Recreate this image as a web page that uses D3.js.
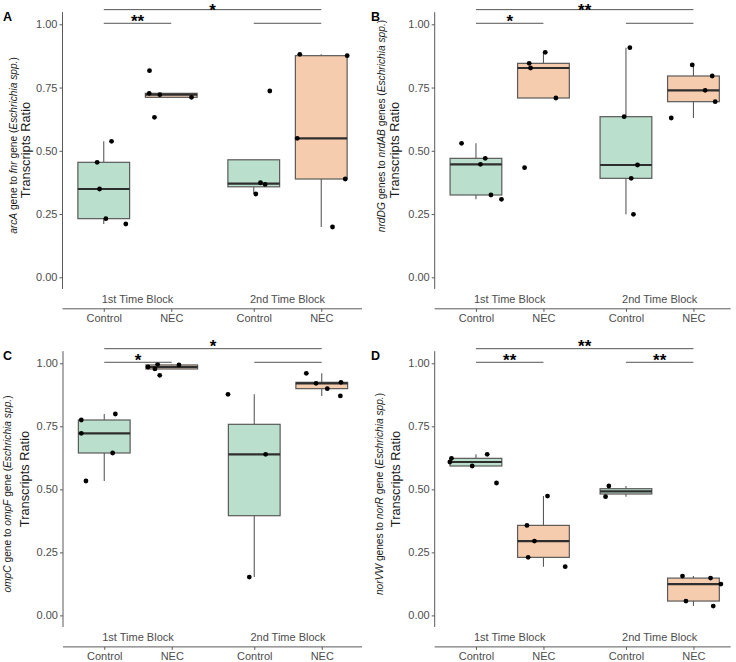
<!DOCTYPE html>
<html><head><meta charset="utf-8">
<script src="https://cdn.jsdelivr.net/npm/d3@7"></script>
<style>body{margin:0;background:#fff} svg{display:block;font-family:"Liberation Sans",Arial,sans-serif}</style>
</head><body><svg id="chart" width="736" height="662"></svg>
<script>
// ---------- data ----------
const blocks = ["1st Time Block", "2nd Time Block"];
const groups = ["Control", "NEC"];
const yTicks = [0, 0.25, 0.5, 0.75, 1.0];
// order of cells: [block1-Control, block1-NEC, block2-Control, block2-NEC]
const arcAValues = [
  [0.4545, 0.349, 0.2318, 0.2107, 0.5375],
  [0.8167, 0.7272, 0.7219, 0.7113, 0.6323],
  [0.3292, 0.3738, 0.3672, 0.7364],
  [0.8813, 0.876, 0.5493, 0.3885, 0.1988]
];
const arcAJitter = [
  [-0.044, -0.028, 0.014, 0.147, 0.052],
  [-0.145, -0.147, -0.076, 0.135, -0.112],
  [0.014, 0.045, 0.076, 0.107],
  [-0.143, 0.173, -0.160, 0.160, 0.075]
];
const nrdValues = [
  [0.5296, 0.4465, 0.4702, 0.3253, 0.3082],
  [0.8457, 0.8273, 0.8892, 0.7087, 0.4333],
  [0.9076, 0.6349, 0.4439, 0.3912, 0.2489],
  [0.8393, 0.7957, 0.7389, 0.6942, 0.6296]
];
const nrdJitter = [
  [-0.096, 0.030, 0.062, 0.100, 0.170],
  [-0.095, -0.086, 0.012, 0.083, -0.126],
  [0.026, -0.012, 0.077, 0.035, 0.050],
  [-0.008, 0.125, 0.078, 0.145, -0.148]
];
const ompValues = [
  [0.7751, 0.7222, 0.7989, 0.6442, 0.5331],
  [0.9854, 0.996, 0.9775, 0.9934, 0.9524],
  [0.877, 0.6389, 0.1521],
  [0.9603, 0.9206, 0.8995, 0.9246, 0.8704]
];
const ompJitter = [
  [-0.153, -0.153, 0.074, 0.056, -0.122],
  [-0.158, -0.094, -0.112, 0.048, -0.080],
  [-0.175, 0.076, -0.033],
  [-0.103, -0.038, 0.037, 0.128, 0.124]
];
const norValues = [
  [0.6085, 0.623, 0.5926, 0.6389, 0.5251],
  [0.3571, 0.295, 0.2302, 0.4735, 0.1931],
  [0.4709, 0.5132],
  [0.156, 0.0569, 0.148, 0.1243, 0.037]
];
const norJitter = [
  [-0.174, -0.163, -0.025, 0.075, 0.137],
  [-0.110, -0.060, -0.102, 0.027, 0.145],
  [-0.136, -0.114],
  [-0.073, -0.050, 0.114, 0.183, 0.132]
];
// significance: [Ctrl1 vs NEC1, Ctrl1 vs NEC2, Ctrl2 vs NEC2]
const arcASig = ["**", "*", ""];
const nrdSig = ["*", "**", ""];
const ompSig = ["*", "*", ""];
const norSig = ["**", "**", "**"];
const sigLevels = [1.004, 1.058];

const titles = {
  A: [["arcA", true], [" gene to ", false], ["fnr", true], [" gene (", false], ["Eschrichia spp.", true], [")", false]],
  B: [["nrdDG", true], [" genes to ", false], ["nrdAB", true], [" genes (", false], ["Eschrichia spp.", true], [")", false]],
  C: [["ompC", true], [" gene to ", false], ["ompF", true], [" gene (", false], ["Eschrichia spp.", true], [")", false]],
  D: [["norVW", true], [" genes to ", false], ["norR", true], [" gene (", false], ["Eschrichia spp.", true], [")", false]]
};

// ---------- layout ----------
const panels = [
  {id: "A", values: arcAValues, jitter: arcAJitter, sig: arcASig, left: 0,   axisX: 62.5,  axisEnd: 362,   y0: 277.3, y1: 24.3,
   t1: [13.3, 145.5], t2: [26, 150]},
  {id: "B", values: nrdValues,  jitter: nrdJitter,  sig: nrdSig,  left: 368, axisX: 434.7, axisEnd: 730.7, y0: 277.3, y1: 24.3,
   t1: [381.3, 126], t2: [394.7, 150]},
  {id: "C", values: ompValues,  jitter: ompJitter,  sig: ompSig,  left: 0,   axisX: 63,    axisEnd: 362,   y0: 615.4, y1: 363.3,
   t1: [7.8, 494], t2: [25, 479]},
  {id: "D", values: norValues,  jitter: norJitter,  sig: norSig,  left: 368, axisX: 434.7, axisEnd: 730.7, y0: 615.4, y1: 363.3,
   t1: [379.7, 494], t2: [396, 479]}
];

const fillColor = {Control: "#badfcc", NEC: "#f6ccae"};
const strokeGrey = "#5a5a5a";
const textGrey = "#4d4d4d";
const dodge = 0.225, boxW = 0.345;

const svg = d3.select("#chart");

panels.forEach(p => {
  const g = svg.append("g");
  const x = d3.scaleLinear().domain([0.5, 2.5]).range([p.axisX, p.axisX + 300]);
  const y = d3.scaleLinear().domain([0, 1]).range([p.y0, p.y1]);
  const cells = [];
  blocks.forEach((b, bi) => groups.forEach((gr, gi) => {
    cells.push({block: b, group: gr, pos: bi + 1 + (gi === 0 ? -dodge : dodge)});
  }));

  // y axis
  const yAxis = d3.axisLeft(y).tickValues(yTicks).tickFormat(d3.format(".2f")).tickSize(3).tickPadding(2);
  const ya = g.append("g").attr("transform", `translate(${p.axisX},0)`).call(yAxis);
  ya.select(".domain").remove();
  ya.selectAll(".tick line").attr("stroke", strokeGrey);
  ya.selectAll(".tick text").attr("fill", textGrey).attr("font-size", 11).attr("font-family", "Liberation Sans, Arial, sans-serif");
  g.append("line").attr("x1", p.axisX).attr("x2", p.axisX)
    .attr("y1", y(1.048)).attr("y2", y(-0.046)).attr("stroke", strokeGrey);

  // x axis (nested)
  const axY = y(0) + 31.5;
  const xa = g.append("g").attr("transform", `translate(0,${axY})`)
    .call(d3.axisBottom(x).tickValues(cells.map(c => c.pos)).tickFormat((d, i) => cells[i].group).tickSize(3).tickPadding(2));
  xa.select(".domain").remove();
  xa.selectAll(".tick line").attr("stroke", strokeGrey);
  xa.selectAll(".tick text").attr("fill", textGrey).attr("font-size", 11).attr("font-family", "Liberation Sans, Arial, sans-serif");
  g.append("line").attr("x1", p.axisX).attr("x2", p.axisEnd).attr("y1", axY).attr("y2", axY).attr("stroke", strokeGrey);
  g.selectAll(".blk").data(blocks).enter().append("text")
    .attr("x", (d, i) => x(i + 1)).attr("y", axY - 5.5)
    .attr("text-anchor", "middle").attr("font-size", 11).attr("fill", textGrey).text(d => d);

  // y title (two lines)
  const t1 = g.append("text").attr("transform", `translate(${p.t1[0]},${p.t1[1]}) rotate(-90)`)
    .attr("dy", "0.35em").attr("text-anchor", "middle").attr("font-size", 10.2).attr("fill", "#1a1a1a");
  titles[p.id].forEach(([s, it]) => t1.append("tspan").attr("font-style", it ? "italic" : "normal").text(s));
  g.append("text").attr("transform", `translate(${p.t2[0]},${p.t2[1]}) rotate(-90)`)
    .attr("dy", "0.35em").attr("text-anchor", "middle").attr("font-size", 12.8).attr("fill", "#1a1a1a")
    .text("Transcripts Ratio");

  // panel letter
  g.append("text").attr("x", p.left + 3).attr("y", p.y1 - 3.5).attr("font-size", 12.5)
    .attr("font-weight", "bold").attr("fill", "#000").text(p.id);

  // boxes
  cells.forEach((c, i) => {
    const vals = p.values[i].slice().sort(d3.ascending);
    const q1 = d3.quantile(vals, 0.25), med = d3.quantile(vals, 0.5), q3 = d3.quantile(vals, 0.75);
    const iqr = q3 - q1;
    const inside = vals.filter(v => v >= q1 - 1.5 * iqr && v <= q3 + 1.5 * iqr);
    const lo = d3.min(inside), hi = d3.max(inside);
    const cx = x(c.pos);
    g.append("line").attr("x1", cx).attr("x2", cx).attr("y1", y(hi)).attr("y2", y(q3)).attr("stroke", strokeGrey).attr("stroke-width", 1.1);
    g.append("line").attr("x1", cx).attr("x2", cx).attr("y1", y(q1)).attr("y2", y(lo)).attr("stroke", strokeGrey).attr("stroke-width", 1.1);
    g.append("rect").attr("x", x(c.pos - boxW / 2)).attr("width", x(c.pos + boxW / 2) - x(c.pos - boxW / 2))
      .attr("y", y(q3)).attr("height", Math.max(0.5, y(q1) - y(q3)))
      .attr("fill", fillColor[c.group]).attr("stroke", strokeGrey).attr("stroke-width", 1.2);
    g.append("line").attr("x1", x(c.pos - boxW / 2)).attr("x2", x(c.pos + boxW / 2))
      .attr("y1", y(med)).attr("y2", y(med)).attr("stroke", "#2e2e2e").attr("stroke-width", 2.2);
  });

  // jittered points
  cells.forEach((c, i) => {
    g.selectAll(null).data(p.values[i]).enter().append("circle")
      .attr("cx", (d, j) => x(c.pos + p.jitter[i][j])).attr("cy", d => y(d))
      .attr("r", 2.4).attr("fill", "#000");
  });

  // significance brackets
  const pairs = [[0, 1, sigLevels[0]], [0, 3, sigLevels[1]], [2, 3, sigLevels[0]]];
  pairs.forEach(([a, b, lv], k) => {
    g.append("line").attr("x1", x(cells[a].pos)).attr("x2", x(cells[b].pos))
      .attr("y1", y(lv)).attr("y2", y(lv)).attr("stroke", "#555").attr("stroke-width", 1);
    if (p.sig[k]) g.append("text").attr("x", (x(cells[a].pos) + x(cells[b].pos)) / 2)
      .attr("y", Math.max(y(lv) + 3.5, 16))
      .attr("text-anchor", "middle").attr("font-size", 17).attr("font-weight", "bold").attr("fill", "#000").text(p.sig[k]);
  });
});
</script></body></html>
